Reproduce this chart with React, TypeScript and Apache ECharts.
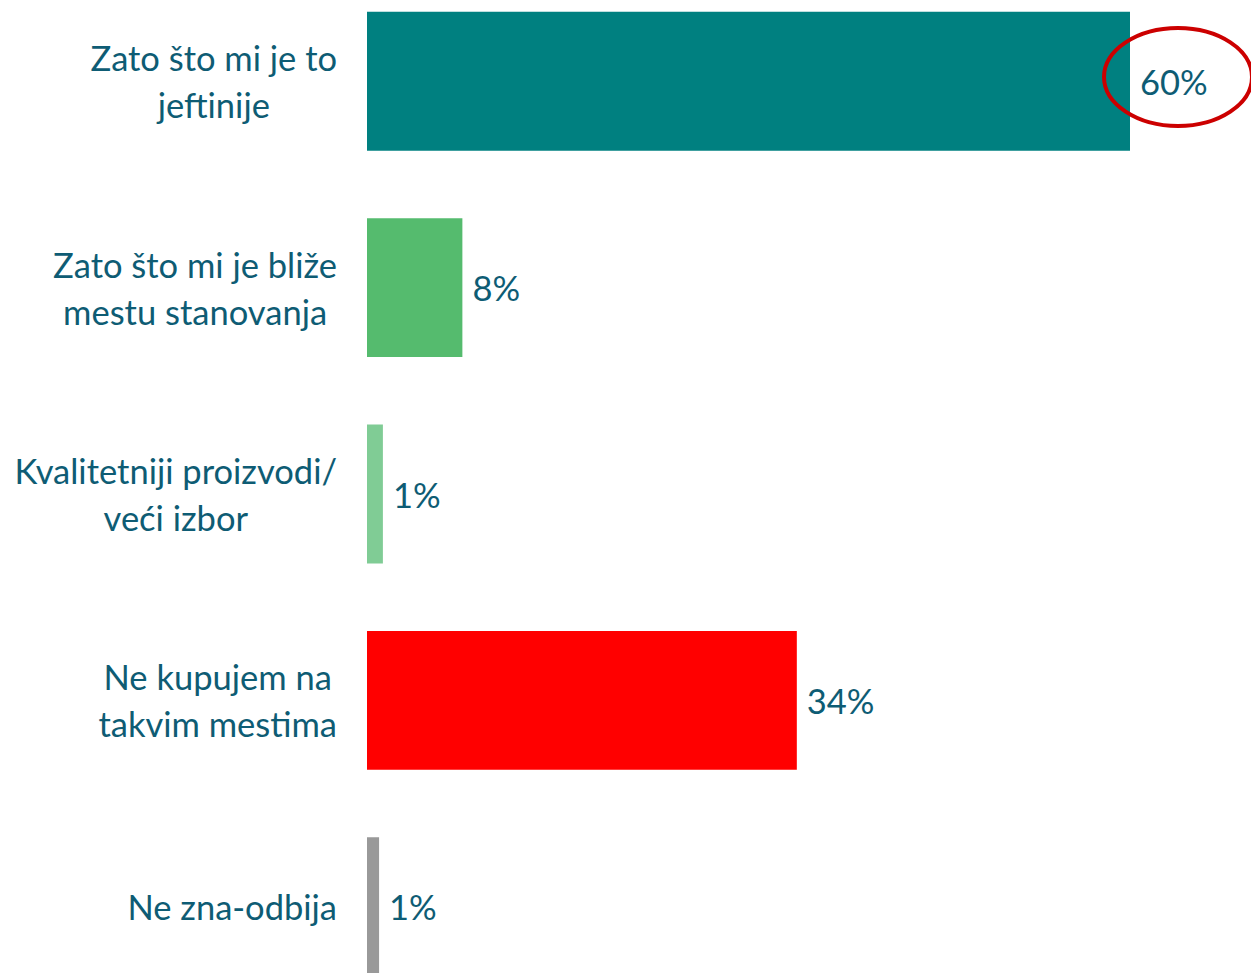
import React, { useEffect, useRef } from "react";
import * as echarts from "echarts";

const categories = [
  "Zato što mi je to\njeftinije",
  "Zato što mi je bliže\nmestu stanovanja",
  "Kvalitetniji proizvodi/\nveći izbor",
  "Ne kupujem na\ntakvim mestima",
  "Ne zna-odbija",
];
const values = [60, 7.5, 1.25, 33.8, 0.95];
const valueLabels = ["60%", "8%", "1%", "34%", "1%"];
const barColors = ["#008080", "#55BB6E", "#80CC95", "#FF0000", "#999999"];

const TEXT = "#0E5C74";
const FONT = "Lato";
const OFFSET = 22;

export default function App() {
  const ref = useRef<HTMLDivElement>(null);
  useEffect(() => {
    if (!ref.current) return;
    const chart = echarts.init(ref.current, undefined, { renderer: "svg" });
    chart.setOption({
      animation: false,
      backgroundColor: "#ffffff",
      grid: { left: 367, width: 763, top: 0, height: 1032, containLabel: false },
      xAxis: {
        type: "value",
        min: 0,
        max: 60,
        show: false,
      },
      yAxis: {
        type: "category",
        inverse: true,
        data: categories,
        axisLine: { show: false },
        axisTick: { show: false },
        splitLine: { show: false },
        axisLabel: {
          margin: 30,
          color: TEXT,
          fontFamily: FONT,
          fontSize: 34.5,
          lineHeight: 47,
          align: "right",
          formatter: (v: string) =>
            v.split("\n").map((l) => `{c|${l}}`).join("\n"),
          rich: {
            c: {
              align: "center",
              color: TEXT,
              fontFamily: FONT,
              fontSize: 34.5,
              lineHeight: 47,
            },
          },
        },
      },
      series: [
        {
          type: "bar",
          barWidth: "67.3%",
          data: values.map((v, i) => ({ value: v, itemStyle: { color: barColors[i] } })),
          label: {
            show: true,
            position: "right",
            distance: 10,
            color: TEXT,
            fontFamily: FONT,
            fontSize: 34.5,
            formatter: (p: any) => valueLabels[p.dataIndex],
          },
        },
      ],
      graphic: [
        {
          type: "ellipse",
          shape: { cx: 1178, cy: 77 + OFFSET, rx: 74, ry: 49 },
          style: { fill: "none", stroke: "#CC0000", lineWidth: 4 },
          z: 100,
        },
      ],
    });
    return () => chart.dispose();
  }, []);
  return (
    <div style={{ position: "fixed", left: 0, top: 0, width: 1251, height: 973, overflow: "hidden", background: "#fff" }}>
      <div
        ref={ref}
        style={{ position: "absolute", left: 0, top: -OFFSET, width: 1251, height: 1032 }}
      />
    </div>
  );
}
